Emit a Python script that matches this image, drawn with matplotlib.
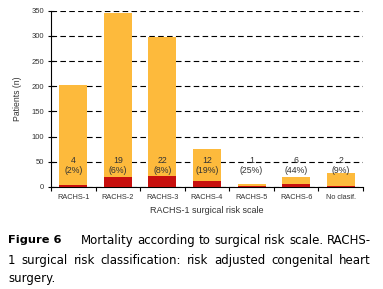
import matplotlib.pyplot as plt
import numpy as np

# data
categories = ["RACHS-1", "RACHS-2", "RACHS-3", "RACHS-4", "RACHS-5", "RACHS-6", "No clasif."]
patients = [202, 346, 298, 75, 6, 20, 28]
deaths = [4, 19, 22, 12, 1, 6, 2]
pct_labels = ["(2%)", "(6%)", "(8%)", "(19%)", "(25%)", "(44%)", "(9%)"]
yticks = [0, 50, 100, 150, 200, 250, 300, 350]

orange = "#FDBA3C"
red = "#C8100E"
tfont = "Liberation Sans"

fig = plt.figure(figsize=(3.83, 2.89), dpi=100)
ax = fig.add_axes([0.133, 0.353, 0.815, 0.61])

x = np.arange(len(categories))
ax.bar(x, patients, width=0.63, color=orange, zorder=2)
ax.bar(x, deaths, width=0.63, color=red, zorder=3)

for i in range(len(categories)):
    ax.text(x[i], 42, f"{deaths[i]}\n{pct_labels[i]}", ha="center", va="center",
            fontsize=6.3, family=tfont, color="#333333", linespacing=1.15, zorder=4)

ax.set_xlim(-0.5, len(categories) - 0.5)
ax.set_ylim(0, 350)
ax.set_yticks(yticks)
ax.set_yticklabels([str(v) for v in yticks], fontsize=5.5, family=tfont, color="#333333")
ax.yaxis.grid(True, color="black", linestyle=(0, (5, 3)), linewidth=0.8)
ax.set_axisbelow(True)

# category labels between tick marks at boundaries
ax.set_xticks(np.arange(len(categories) + 1) - 0.5)
ax.set_xticklabels([])
ax.set_xticks(x, minor=True)
ax.set_xticklabels(categories, minor=True, fontsize=5.3, family=tfont, color="#333333")
ax.tick_params(axis="x", which="minor", length=0, pad=5)
ax.tick_params(axis="x", which="major", length=3, width=0.8)
ax.tick_params(axis="y", length=4, width=0.8, direction="inout", pad=3)

for s in ["top", "right"]:
    ax.spines[s].set_visible(False)
ax.spines["left"].set_linewidth(0.8)
ax.spines["bottom"].set_linewidth(0.8)

ax.set_ylabel("Patients (n)", fontsize=6.2, family=tfont, color="#333333", labelpad=7)
ax.set_xlabel("RACHS-1 surgical risk scale", fontsize=6.5, family=tfont, color="#333333", labelpad=4)

# caption, justified lines
cap_size = 8.5
left_px, right_px = 8, 371
lines = [
    (["Mortality", "according", "to", "surgical", "risk", "scale.", "RACHS-"], True, 0.168),
    (["1", "surgical", "risk", "classification:", "risk", "adjusted", "congenital", "heart"], True, 0.10),
    (["surgery."], False, 0.035),
]
renderer = fig.canvas.get_renderer()
W = fig.bbox.width

head = fig.text(left_px / W, 0.168, "Figure 6", fontsize=8.2, fontweight="bold",
                family="DejaVu Sans", va="center")
head_end = head.get_window_extent(renderer).x1

for words, justify, yy in lines:
    start = left_px if yy != 0.168 else head_end + 19
    texts = [fig.text(0, yy, w, fontsize=cap_size, family="DejaVu Sans", va="center") for w in words]
    widths = [t.get_window_extent(renderer).width for t in texts]
    if justify and len(words) > 1:
        gap = (right_px - start - sum(widths)) / (len(words) - 1)
    else:
        gap = 6
    pos = start
    for t, w in zip(texts, widths):
        t.set_x(pos / W)
        pos += w + gap

fig.savefig("out.png", dpi=100)
